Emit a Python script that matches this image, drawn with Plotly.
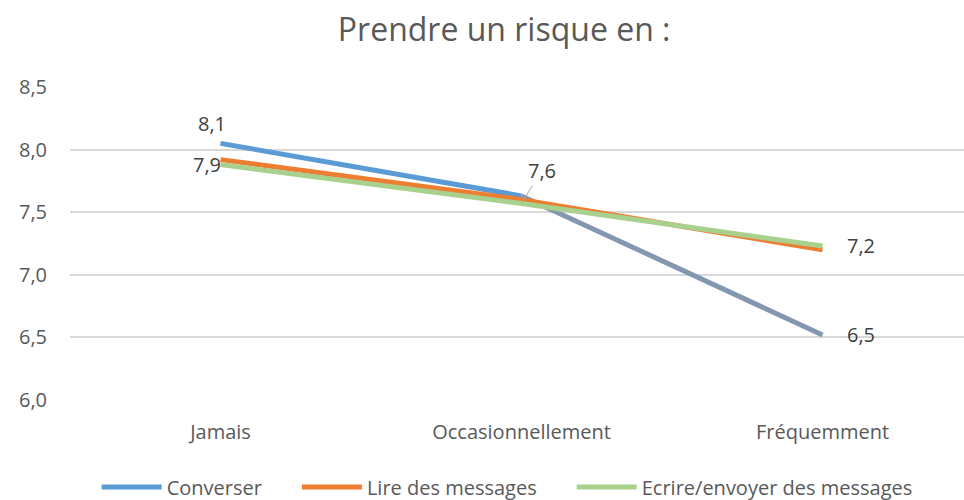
import plotly.graph_objects as go

categories = ["Jamais", "Occasionnellement", "Fréquemment"]
converser = [8.05, 7.63, 6.52]
lire = [7.92, 7.60, 7.20]
ecrire = [7.88, 7.57, 7.23]
y_ticks = [6.0, 6.5, 7.0, 7.5, 8.0, 8.5]

text_color = "#595959"
font_family = "Open Sans, Liberation Sans, sans-serif"
gap = "\u2003\u2002"  # spacing between legend entries

fig = go.Figure()

# Conversation line: first segment blue, second in grey-blue as in the original
fig.add_trace(go.Scatter(x=categories[:2], y=converser[:2], mode="lines", name="Converser" + gap,
                         line=dict(color="#5B9BD5", width=5)))
fig.add_trace(go.Scatter(x=categories[1:], y=converser[1:], mode="lines", showlegend=False,
                         line=dict(color="#8497B0", width=5)))
fig.add_trace(go.Scatter(x=categories, y=lire, mode="lines", name="Lire des messages" + gap,
                         line=dict(color="#ED7D31", width=5)))
fig.add_trace(go.Scatter(x=categories, y=ecrire, mode="lines", name="Ecrire/envoyer des messages",
                         line=dict(color="#A9D18E", width=5)))

def fmt(v):
    return f"{v:.1f}".replace(".", ",")

lab_font = dict(size=20, color="#404040", family=font_family)
# data labels
fig.add_annotation(x=categories[0], y=converser[0], text=fmt(converser[0]), showarrow=False,
                   xanchor="center", yanchor="bottom", xshift=-9, yshift=4, font=lab_font)
fig.add_annotation(x=categories[0], y=ecrire[0], text=fmt(ecrire[0]), showarrow=False,
                   xanchor="right", yanchor="middle", xshift=2, yshift=0, font=lab_font)
fig.add_annotation(x=categories[1], y=ecrire[1], text=fmt(lire[1]), showarrow=True,
                   arrowhead=0, arrowwidth=1, arrowcolor="#A6A6A6", ax=20, ay=-33,
                   standoff=0, font=lab_font)
fig.add_annotation(x=categories[2], y=lire[2], text=fmt(lire[2]), showarrow=False,
                   xanchor="left", yanchor="middle", xshift=22, yshift=4, font=lab_font)
fig.add_annotation(x=categories[2], y=converser[2], text=fmt(converser[2]), showarrow=False,
                   xanchor="left", yanchor="middle", xshift=22, yshift=0, font=lab_font)

fig.update_layout(
    width=964, height=500,
    margin=dict(l=70, r=0, t=87, b=100),
    paper_bgcolor="white", plot_bgcolor="white",
    separators=", ",
    font=dict(family=font_family, color=text_color, size=20),
    title=dict(text="Prendre un risque en :", x=0.523, xanchor="center", y=0.94, yanchor="middle",
               font=dict(size=32, color=text_color, family=font_family)),
    showlegend=True,
    legend=dict(orientation="h", x=0.489, xanchor="center", yref="container", y=0.026,
                yanchor="middle", font=dict(size=20, color=text_color), itemwidth=60,
                tracegroupgap=0),
)
fig.update_xaxes(range=[-0.5, 2.47], showgrid=False, showline=False, ticks="", automargin=False,
                 tickfont=dict(size=20, color=text_color), ticklabelstandoff=18)
fig.update_yaxes(range=[6.0, 8.5], tickvals=y_ticks, tickformat=".1f", automargin=False,
                 showgrid=True, gridcolor="#D9D9D9", gridwidth=1.5, zeroline=False,
                 tickfont=dict(size=20, color=text_color), ticklabelstandoff=22)

# drop the page's default body margin so the figure sits at the window's corner
fig.write_html("out.html", config={"displayModeBar": False},
               post_script="document.body.style.margin='0';")
